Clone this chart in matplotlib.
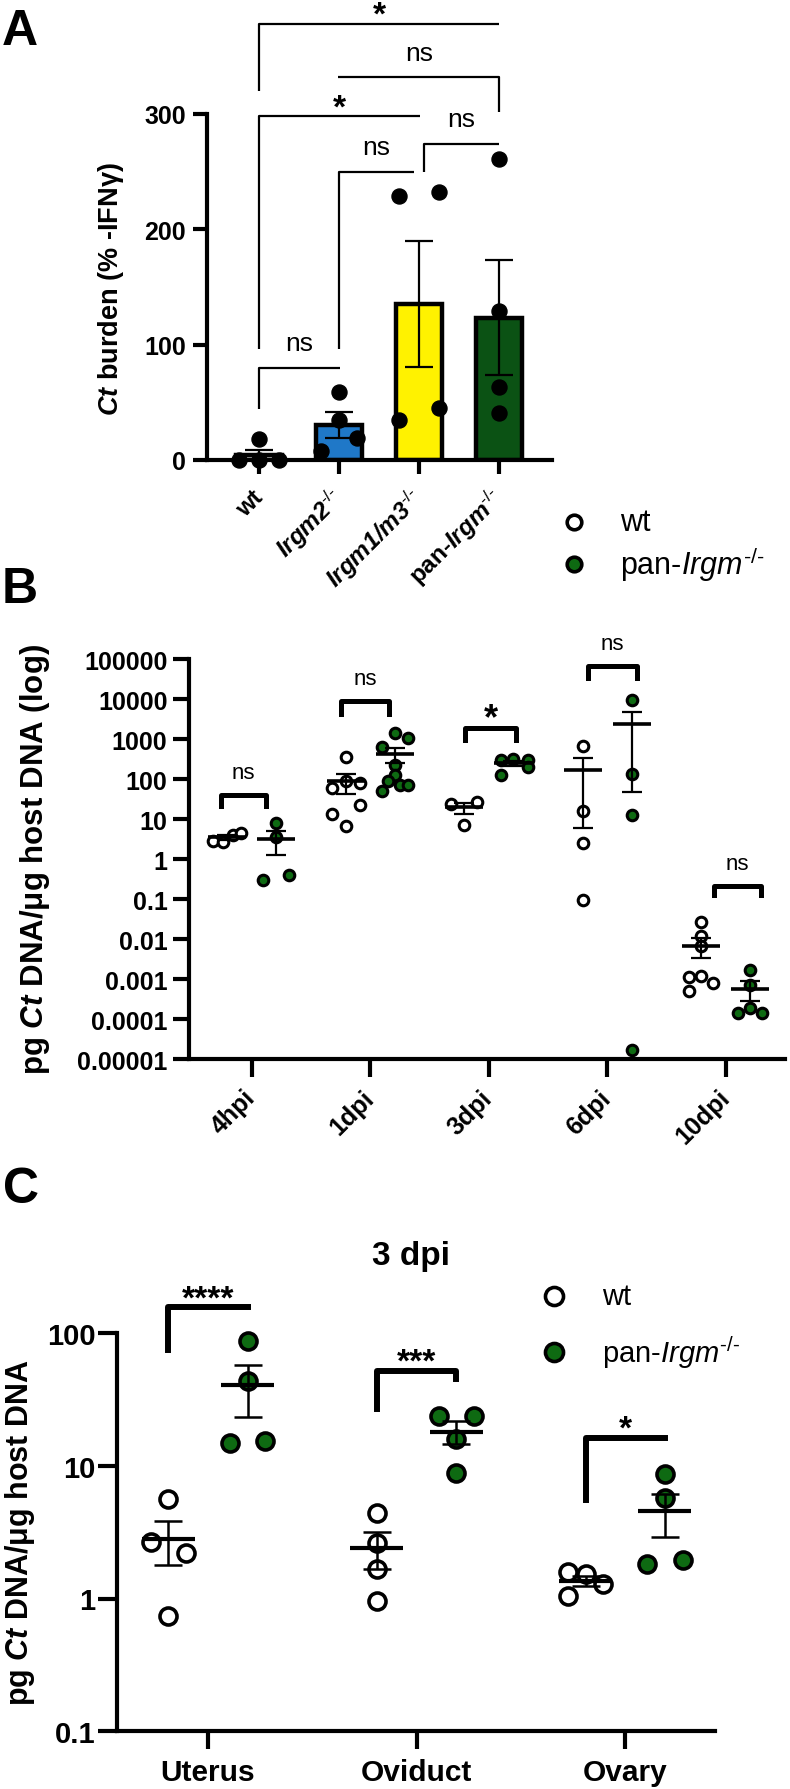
import numpy as np
import matplotlib.pyplot as plt
from matplotlib.lines import Line2D

plt.rcParams['font.family'] = ['Liberation Sans', 'DejaVu Sans']
plt.rcParams['font.weight'] = 'bold'
plt.rcParams['mathtext.fontset'] = 'custom'
plt.rcParams['mathtext.rm'] = 'Liberation Sans:regular'
plt.rcParams['mathtext.it'] = 'Liberation Sans:italic:regular'
plt.rcParams['mathtext.bf'] = 'Liberation Sans:bold'
plt.rcParams['mathtext.sf'] = 'Liberation Sans:italic:bold'

W, H = 790, 1790
GREEN = '#0e6a12'

# ---------------- panel A data
a_labels = ['wt', r'$\mathsf{Irgm2}^{\text{-/-}}$', r'$\mathsf{Irgm1/m3}^{\text{-/-}}$',
            r'pan-$\mathsf{Irgm}^{\text{-/-}}$']
a_vals = [[0, 0, 0, 18], [59, 35, 8, 19], [229, 232, 35, 45], [261, 129, 63, 41]]
a_colors = ['white', '#1f78c8', '#fff200', '#0b5214']
a_yticks = [0, 100, 200, 300]
# comparisons: from, to, bracket height, left leg end, right leg end, label
a_cmp_x1 = [0, 1, 2.06, 0, 0.99, 0]
a_cmp_x2 = [1.01, 1.93, 3, 2.01, 3, 3]
a_cmp_y = [80, 250, 274, 298, 332, 378]
a_cmp_l = [44, 96, 250, 96, 332, 320]
a_cmp_r = [80, 250, 274, 298, 302, 378]
a_cmp_txt = ['ns', 'ns', 'ns', '*', 'ns', '*']

# ---------------- panel B data
b_cats = ['4hpi', '1dpi', '3dpi', '6dpi', '10dpi']
b_wt = [[2.8, 2.6, 4.0, 4.4],
        [350, 79, 60, 90, 22, 13, 6.6],
        [24, 27, 7.2],
        [656, 15.6, 2.5, 0.096],
        [0.026, 0.012, 0.0065, 0.0011, 0.0012, 0.0008, 0.0005]]
b_pan = [[8.0, 3.6, 0.30, 0.40],
         [1413, 1060, 631, 224, 126, 89, 71, 71, 50],
         [302, 316, 302, 200, 128],
         [9600, 133, 12.8, 1.7e-5],
         [0.0017, 0.00072, 0.00014, 0.00019, 0.00014]]
b_yticks = [1e-5, 1e-4, 1e-3, 1e-2, 1e-1, 1, 10, 100, 1e3, 1e4, 1e5]
b_ytick_labels = ['0.00001', '0.0001', '0.001', '0.01', '0.1', '1', '10', '100',
                  '1000', '10000', '100000']
b_sig = ['ns', 'ns', '*', 'ns', 'ns']
b_sig_top = [40, 8900, 1880, 66800, 0.215]
b_sig_leg = [21, 4200, 960, 33500, 0.128]

# ---------------- panel C data
c_cats = ['Uterus', 'Oviduct', 'Ovary']
c_wt = [[5.6, 2.65, 2.2, 0.74], [4.4, 2.6, 1.66, 0.95], [1.58, 1.53, 1.29, 1.05]]
c_pan = [[87, 43, 14.9, 15.4], [23.8, 23.8, 15.8, 8.8], [8.6, 5.7, 1.83, 1.94]]
c_yticks = [0.1, 1, 10, 100]
c_ytick_labels = ['0.1', '1', '10', '100']
c_sig = ['****', '***', '*']
c_sig_top = [155, 51.6, 16.2]
c_sig_leg_l = [74, 26.8, 5.5]
c_sig_leg_r = [155, 44.5, 16.2]

# point scatter layout (horizontal spread inside a group)
a_jit = [[-0.25, 0, 0.25, 0], [0, 0, -0.23, 0.23], [-0.25, 0.25, -0.25, 0.25], [0, 0, 0, 0]]
b_wt_jit = [[-0.12, -0.04, 0.05, 0.12], [0, 0.12, -0.12, 0, 0.12, -0.12, 0], [-0.11, 0.11, 0],
            [0, 0, 0, 0], [0, 0, 0, -0.1, 0, 0.1, -0.1]]
b_pan_jit = [[0, 0, -0.11, 0.11], [0, 0.11, -0.11, 0, 0, -0.06, 0.04, 0.11, -0.11],
             [-0.1, 0, 0.12, 0.12, -0.1], [0, 0, 0, 0], [0, 0, -0.1, 0, 0.1]]
b_br_l = [-0.26, -0.245, -0.2, -0.16, -0.1]
b_br_r = [0.12, 0.16, 0.23, 0.25, 0.3]
c_wt_jit = [[0, -0.085, 0.085, 0], [0, 0, 0, 0], [-0.085, 0, 0.085, -0.085]]
c_pan_jit = [[0, 0, -0.085, 0.085], [-0.085, 0.085, 0, 0], [0, 0, -0.085, 0.085]]


def rect(l, t, r, b):
    return [l / W, 1 - b / H, (r - l) / W, (b - t) / H]


def style(ax, lw=3.0):
    for s in ['top', 'right']:
        ax.spines[s].set_visible(False)
    for s in ['left', 'bottom']:
        ax.spines[s].set_linewidth(lw)
    ax.minorticks_off()


def sem(v):
    v = np.asarray(v, dtype=float)
    return v.mean(), v.std(ddof=1) / np.sqrt(len(v))


def sig_text(ax, t, x, y, dy, fs, weight='bold'):
    ax.annotate(t, (x, y), xytext=(0, dy), textcoords='offset points', ha='center',
                va='baseline', fontsize=fs, fontweight=weight, annotation_clip=False)


fig = plt.figure(figsize=(7.9, 17.9), dpi=100)

# ================= A
ax = fig.add_axes(rect(207, 115, 552, 461))
style(ax)
xa = np.arange(len(a_vals))
stats = [sem(v) for v in a_vals]
means = [s[0] for s in stats]
errs = [s[1] for s in stats]
ax.bar(xa, means, width=0.58, color=a_colors, edgecolor='black', linewidth=3.2, zorder=2)
ax.errorbar(xa, means, yerr=errs, fmt='none', ecolor='black', elinewidth=1.6,
            capsize=10, capthick=1.6, zorder=3)
for i, v in enumerate(a_vals):
    ax.scatter(i + np.array(a_jit[i]), v, s=117, color='black', zorder=4, clip_on=False)
ax.set_xlim(-0.65, 3.66)
ax.set_ylim(0, 300)
ax.set_yticks(a_yticks)
ax.set_xticks(xa)
ax.set_xticklabels(a_labels, rotation=45, ha='right', va='center', rotation_mode='anchor',
                   fontsize=17.5)
ax.tick_params(axis='y', length=10, width=3, labelsize=18, pad=5)
ax.tick_params(axis='x', length=10, width=3, pad=14)
for x1, x2, y, yl, yr, t in zip(a_cmp_x1, a_cmp_x2, a_cmp_y, a_cmp_l, a_cmp_r, a_cmp_txt):
    ax.plot([x1, x1, x2, x2], [yl, y, y, yr], color='black', lw=1.6, clip_on=False,
            solid_capstyle='butt', zorder=5)
    if t == 'ns':
        sig_text(ax, t, (x1 + x2) / 2, y, 12.6, 19, 'normal')
    else:
        sig_text(ax, t, (x1 + x2) / 2, y, 0, 24)

# ================= B
ax = fig.add_axes(rect(189, 660, 785, 1060))
style(ax)
ax.set_yscale('log')
ax.set_ylim(1e-5, 1e5)
ax.set_xlim(-0.53, 4.5)
ax.set_yticks(b_yticks)
ax.set_yticklabels(b_ytick_labels)
ax.minorticks_off()
ax.set_xticks(range(len(b_cats)))
ax.set_xticklabels(b_cats, rotation=45, ha='right', va='center', rotation_mode='anchor',
                   fontsize=18)
ax.tick_params(axis='y', length=11.5, width=3, labelsize=18, pad=4)
ax.tick_params(axis='x', length=13, width=3, pad=12)
off = 0.207
for i in range(len(b_cats)):
    for vals, jit, dx, face in ((b_wt[i], b_wt_jit[i], -off, 'white'),
                                (b_pan[i], b_pan_jit[i], off, GREEN)):
        m, s = sem(vals)
        xc = i + dx
        ax.scatter(xc + np.array(jit), vals, s=58, facecolor=face, edgecolor='black',
                   linewidth=2.2, zorder=3, clip_on=False)
        ax.plot([xc - 0.16, xc + 0.16], [m, m], color='black', lw=2.6, zorder=4,
                solid_capstyle='butt')
        ax.errorbar(xc, m, yerr=s, fmt='none', ecolor='black', elinewidth=1.6,
                    capsize=7, capthick=1.6, zorder=4)
    x1, x2 = i + b_br_l[i], i + b_br_r[i]
    ax.plot([x1, x1, x2, x2], [b_sig_leg[i], b_sig_top[i], b_sig_top[i], b_sig_leg[i]],
            color='black', lw=3.6, clip_on=False, zorder=5)
    if b_sig[i] == 'ns':
        sig_text(ax, 'ns', (x1 + x2) / 2, b_sig_top[i], 12.2, 16, 'normal')
    else:
        sig_text(ax, b_sig[i], (x1 + x2) / 2, b_sig_top[i], 0, 26)

# ================= C
ax = fig.add_axes(rect(117, 1333.7, 715, 1732.4))
style(ax)
ax.set_yscale('log')
ax.set_ylim(0.1, 100)
ax.set_xlim(-0.436, 2.43)
ax.set_yticks(c_yticks)
ax.set_yticklabels(c_ytick_labels)
ax.minorticks_off()
ax.set_xticks(range(len(c_cats)))
ax.set_xticklabels(c_cats, fontsize=21.5)
ax.tick_params(axis='y', length=13.5, width=3, labelsize=21, pad=2)
ax.tick_params(axis='x', length=13, width=3, pad=6)
off = 0.19
for i in range(len(c_cats)):
    for vals, jit, dx, face in ((c_wt[i], c_wt_jit[i], -off, 'white'),
                                (c_pan[i], c_pan_jit[i], off, GREEN)):
        m, s = sem(vals)
        xc = i + dx
        ax.scatter(xc + np.array(jit), vals, s=150, facecolor=face, edgecolor='black',
                   linewidth=2.6, zorder=3, clip_on=False)
        ax.plot([xc - 0.127, xc + 0.127], [m, m], color='black', lw=3.0, zorder=4,
                solid_capstyle='butt')
        ax.errorbar(xc, m, yerr=s, fmt='none', ecolor='black', elinewidth=1.8,
                    capsize=10, capthick=1.8, zorder=4)
    x1, x2 = i - off, i + off
    ax.plot([x1, x1, x2, x2], [c_sig_leg_l[i], c_sig_top[i], c_sig_top[i], c_sig_leg_r[i]],
            color='black', lw=4.3, clip_on=False, zorder=5)
    sig_text(ax, c_sig[i], i, c_sig_top[i], 0, 24)


# ================= figure level texts
def ftext(x, y, s, **kw):
    fig.text(x / W, 1 - y / H, s, **kw)


ftext(2, 45, 'A', fontsize=36, va='baseline')
ftext(2, 603, 'B', fontsize=36, va='baseline')
ftext(3, 1203, 'C', fontsize=36, va='baseline')

ftext(111, 289, r'$\mathsf{Ct}$ burden (% -IFNγ)', fontsize=19.5, rotation=90,
      ha='center', va='center')
ftext(35, 860, r'pg $\mathsf{Ct}$ DNA/μg host DNA (log)', fontsize=22.5, rotation=90,
      ha='center', va='center')
ftext(20, 1533, r'pg $\mathsf{Ct}$ DNA/μg host DNA', fontsize=22, rotation=90,
      ha='center', va='center')
ftext(411, 1256, '3 dpi', fontsize=24, ha='center', va='center')

for (mx, y1, y2, tx, ms, fs) in ((574, 523, 565, 620, 10.5, 22), (554, 1297, 1353, 602, 13, 21)):
    for y, face, lab in ((y1, 'white', 'wt'), (y2, GREEN, r'pan-$\mathit{Irgm}^{\text{-/-}}$')):
        fig.add_artist(Line2D([mx / W], [1 - y / H], transform=fig.transFigure, marker='o',
                              ms=ms, mfc=face, mec='black', mew=2.6, ls='none'))
        ftext(tx, y, lab, fontsize=fs, fontweight='normal', ha='left', va='center')

fig.savefig('out.png', dpi=100)
